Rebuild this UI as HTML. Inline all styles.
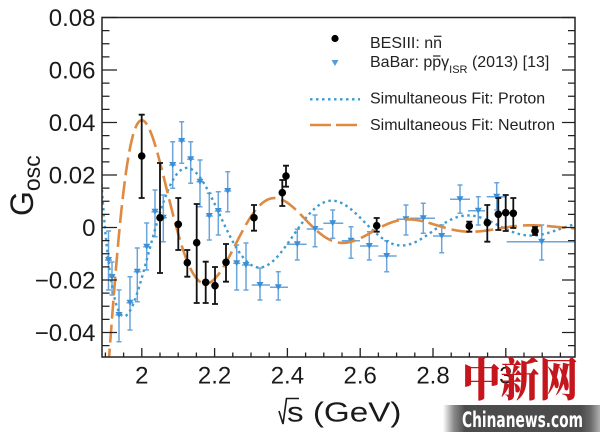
<!DOCTYPE html>
<html>
<head>
<meta charset="utf-8">
<style>
html,body{margin:0;padding:0;background:#fff;}
svg{display:block;}
text{font-family:"Liberation Sans",Arial,sans-serif;}
</style>
</head>
<body>
<svg id="s" width="600" height="432" viewBox="0 0 600 432" xmlns="http://www.w3.org/2000/svg">
<defs>
<clipPath id="clip"><rect x="102" y="17.5" width="473" height="339.5"/></clipPath>
<linearGradient id="bar" x1="0" x2="1" y1="0" y2="0">
<stop offset="0" stop-color="#ffffff"/>
<stop offset="0.07" stop-color="#8a8a8a"/>
<stop offset="0.14" stop-color="#4c4c4c"/>
<stop offset="0.88" stop-color="#4c4c4c"/>
<stop offset="0.94" stop-color="#6a6a6a"/>
<stop offset="1" stop-color="#b0b0b0"/>
</linearGradient>
</defs>
<rect width="600" height="432" fill="#fff"/>

<!-- BaBar data -->
<g clip-path="url(#clip)">
<path fill="none" stroke="#6aa6dc" stroke-width="1.5" d="M108.5 231V290M106 231h5M106 290h5M105 260H112M112 262V295M109.5 262h5M109.5 295h5M108.5 277H115.5M119 290V341.7M116.5 290h5M116.5 341.7h5M115.5 315H122.5M130 276.7V330M127.5 276.7h5M127.5 330h5M126.5 302.7H133.5M137.3 248V301.7M134.8 248h5M134.8 301.7h5M133.8 271.7H140.8M146.7 223V270M144.2 223h5M144.2 270h5M143.2 246.7H150.2M155 190V236.7M152.5 190h5M152.5 236.7h5M151.5 211.7H158.5M163.3 195V241.7M160.8 195h5M160.8 241.7h5M159.8 217.7H166.8M172.7 141.7V188.3M170.2 141.7h5M170.2 188.3h5M169.2 165H176.2M181.7 121.7V163.3M179.2 121.7h5M179.2 163.3h5M178.2 141H185.2M190.7 141.7V183.3M188.2 141.7h5M188.2 183.3h5M187.2 159.3H194.2M200 160V206.7M197.5 160h5M197.5 206.7h5M196.5 181.7H203.5M209.3 193.3V240M206.8 193.3h5M206.8 240h5M205.8 216H212.8M218.3 191.7V235M215.8 191.7h5M215.8 235h5M214.8 211H221.8M227.7 171.7V211.7M225.2 171.7h5M225.2 211.7h5M224.2 191H231.2M236.7 245V290M234.2 245h5M234.2 290h5M233.2 263.3H240.2M246 243V290M243.5 243h5M243.5 290h5M242 265H250M260 268V300M257.5 268h5M257.5 300h5M251.7 285H270M278.3 271.7V300M275.8 271.7h5M275.8 300h5M270 287.3H288M297.3 229.3V260M294.8 229.3h5M294.8 260h5M286.7 244.3H306.7M315 215V246.7M312.5 215h5M312.5 246.7h5M306.7 229H323.3M332.7 210V238.3M330.2 210h5M330.2 238.3h5M323.3 223.3H343.3M351 226.7V258.3M348.5 226.7h5M348.5 258.3h5M341.7 240.7H360M369.3 231.7V260M366.8 231.7h5M366.8 260h5M360 246H378.3M386.7 240.7V271.7M384.2 240.7h5M384.2 271.7h5M378.3 256H396.7M406 205V235M403.5 205h5M403.5 235h5M396.7 219.3H416.7M423.3 203.3V233.3M420.8 203.3h5M420.8 233.3h5M410 218.3H435M441.7 225V252.7M439.2 225h5M439.2 252.7h5M433 236H451.7M460 185V213.3M457.5 185h5M457.5 213.3h5M450 199.3H470M478.3 196.7V225M475.8 196.7h5M475.8 225h5M468 210.7H485M496.7 182.7V210M494.2 182.7h5M494.2 210h5M486.7 196.7H506.7M541.7 225V260M539.2 225h5M539.2 260h5M506.7 241.7H575"/>
<path fill="#3b8fd6" d="M105 257h7l-3.5 6zM108.5 274h7l-3.5 6zM115.5 312h7l-3.5 6zM126.5 299.7h7l-3.5 6zM133.8 268.7h7l-3.5 6zM143.2 243.7h7l-3.5 6zM151.5 208.7h7l-3.5 6zM159.8 214.7h7l-3.5 6zM169.2 162h7l-3.5 6zM178.2 138h7l-3.5 6zM187.2 156.3h7l-3.5 6zM196.5 178.7h7l-3.5 6zM205.8 213h7l-3.5 6zM214.8 208h7l-3.5 6zM224.2 188h7l-3.5 6zM233.2 260.3h7l-3.5 6zM242.5 262h7l-3.5 6zM256.5 282h7l-3.5 6zM274.8 284.3h7l-3.5 6zM293.8 241.3h7l-3.5 6zM311.5 226h7l-3.5 6zM329.2 220.3h7l-3.5 6zM347.5 237.7h7l-3.5 6zM365.8 243h7l-3.5 6zM383.2 253h7l-3.5 6zM402.5 216.3h7l-3.5 6zM419.8 215.3h7l-3.5 6zM438.2 233h7l-3.5 6zM456.5 196.3h7l-3.5 6zM474.8 207.7h7l-3.5 6zM493.2 193.7h7l-3.5 6zM538.2 238.7h7l-3.5 6z"/>

<!-- fit curves -->
<path id="proton" fill="none" stroke="#3d9bd0" stroke-width="2.4" stroke-dasharray="2.5 3.5" d=""/>
<path id="neutron" fill="none" stroke="#de8a40" stroke-width="2.6" stroke-dasharray="18 6" d=""/>

<!-- BESIII data -->
<path fill="none" stroke="#111" stroke-width="1.8" d="M141.7 114.7V198M138.7 114.7h6M138.7 198h6M160 163V273M157 163h6M157 273h6M178.3 198V250M175.3 198h6M175.3 250h6M187.3 250V276.7M184.3 250h6M184.3 276.7h6M196.7 204V303M193.7 204h6M193.7 303h6M205.7 261.7V303M202.7 261.7h6M202.7 303h6M215 267V304M212 267h6M212 304h6M226 244V281.7M223 244h6M223 281.7h6M254 205V230.7M251 205h6M251 230.7h6M282.3 180V206M279.3 180h6M279.3 206h6M286 165.7V186.7M283 165.7h6M283 186.7h6M376.7 218V231.7M373.7 218h6M373.7 231.7h6M469.3 221.7V231.7M466.3 221.7h6M466.3 231.7h6M487.3 205V241.7M484.3 205h6M484.3 241.7h6M498.3 198V230M495.3 198h6M495.3 230h6M505.7 195V231M502.7 195h6M502.7 231h6M513.3 198V228M510.3 198h6M510.3 228h6M535 227V235M532 227h6M532 235h6"/>
<g fill="#000">
<circle cx="141.7" cy="156" r="3.8"/><circle cx="160" cy="217.7" r="3.8"/><circle cx="178.3" cy="224.3" r="3.8"/><circle cx="187.3" cy="262.7" r="3.8"/><circle cx="196.7" cy="242.7" r="3.8"/><circle cx="205.7" cy="282.3" r="3.8"/><circle cx="215" cy="285.7" r="3.8"/><circle cx="226" cy="262.3" r="3.8"/><circle cx="254" cy="217.7" r="3.8"/><circle cx="282.3" cy="192.7" r="3.8"/><circle cx="286" cy="176" r="3.8"/><circle cx="376.7" cy="225.7" r="3.8"/><circle cx="469.3" cy="226" r="3.8"/><circle cx="487.3" cy="222.7" r="3.8"/><circle cx="498.3" cy="214.3" r="3.8"/><circle cx="505.7" cy="212.7" r="3.8"/><circle cx="513.3" cy="213.3" r="3.8"/><circle cx="535" cy="231" r="3.8"/>
</g>
</g>

<!-- frame & ticks -->
<rect x="102" y="17.5" width="473" height="339.5" fill="none" stroke="#222" stroke-width="1.5"/>
<path fill="none" stroke="#222" stroke-width="1.3" d="M102 17.5h15M102 30.6h7.5M102 43.75h7.5M102 56.9h7.5M102 70h15M102 83.1h7.5M102 96.25h7.5M102 109.4h7.5M102 122.5h15M102 135.6h7.5M102 148.75h7.5M102 161.9h7.5M102 175h15M102 188.1h7.5M102 201.25h7.5M102 214.4h7.5M102 227.5h15M102 240.6h7.5M102 253.75h7.5M102 266.9h7.5M102 280h15M102 293.1h7.5M102 306.25h7.5M102 319.4h7.5M102 332.5h15M102 345.6h7.5
M575 17.5h-13M575 30.6h-7M575 43.75h-7M575 56.9h-7M575 70h-13M575 83.1h-7M575 96.25h-7M575 109.4h-7M575 122.5h-13M575 135.6h-7M575 148.75h-7M575 161.9h-7M575 175h-13M575 188.1h-7M575 201.25h-7M575 214.4h-7M575 227.5h-13M575 240.6h-7M575 253.75h-7M575 266.9h-7M575 280h-13M575 293.1h-7M575 306.25h-7M575 319.4h-7M575 332.5h-13M575 345.6h-7
M105.4 357v-4.5M123.6 357v-4.5M141.8 357v-9M160 357v-4.5M178.2 357v-4.5M196.4 357v-4.5M214.6 357v-9M232.8 357v-4.5M251 357v-4.5M269.2 357v-4.5M287.4 357v-9M305.6 357v-4.5M323.8 357v-4.5M342 357v-4.5M360.2 357v-9M378.4 357v-4.5M396.6 357v-4.5M414.8 357v-4.5M433 357v-9M451.2 357v-4.5M469.4 357v-4.5M487.6 357v-4.5M505.8 357v-9M524 357v-4.5M542.2 357v-4.5M560.4 357v-4.5"/>

<!-- y tick labels -->
<g font-size="24" fill="#1a1a1a" text-anchor="end">
<text x="95.5" y="26.1">0.08</text>
<text x="95.5" y="78.6">0.06</text>
<text x="95.5" y="131.1">0.04</text>
<text x="95.5" y="183.6">0.02</text>
<text x="95.5" y="236.1">0</text>
<text x="95.5" y="288.6">−0.02</text>
<text x="95.5" y="341.1">−0.04</text>
</g>
<!-- x tick labels -->
<g font-size="24" fill="#1a1a1a" text-anchor="middle">
<text x="141.8" y="383.5">2</text>
<text x="214.6" y="383.5">2.2</text>
<text x="287.4" y="383.5">2.4</text>
<text x="360.2" y="383.5">2.6</text>
<text x="433" y="383.5">2.8</text>
<text x="505.8" y="383.5">3</text>
</g>

<!-- axis titles -->
<text transform="translate(33,216) rotate(-90)" font-size="32" fill="#1a1a1a">G<tspan font-size="23" dy="7">osc</tspan></text>
<path d="M279 411L283 424L286.5 398.5H299" fill="none" stroke="#1a1a1a" stroke-width="1.6"/>
<text x="287" y="421.5" font-size="28" fill="#1a1a1a" textLength="114.5" lengthAdjust="spacingAndGlyphs">s (GeV)</text>

<!-- legend -->
<circle cx="335" cy="38.5" r="3.6" fill="#000"/>
<text x="370" y="48" font-size="16" fill="#222">BESIII: nn</text>
<path d="M434 36.3h7.5" stroke="#222" stroke-width="1.2"/>
<path d="M331.5 60h7l-3.5 6z" fill="#5a9bd5"/>
<text x="370" y="67" font-size="16" fill="#222">BaBar: ppγ<tspan font-size="11" dy="6">ISR</tspan><tspan dy="-6"> (2013) [13]</tspan></text>
<path d="M433 56h7.5" stroke="#222" stroke-width="1.2"/>
<path d="M310 99.3H360" stroke="#3d9bd0" stroke-width="2.4" stroke-dasharray="2.5 3.5"/>
<text x="370" y="103.5" font-size="16" fill="#222">Simultaneous Fit: Proton</text>
<path d="M310 125H360" stroke="#de8a40" stroke-width="2.6" stroke-dasharray="21 5"/>
<text x="370" y="130" font-size="16" fill="#222">Simultaneous Fit: Neutron</text>

<!-- watermark -->
<text x="462" y="396" font-size="46" font-weight="900" fill="#c5161d" style="font-family:'Noto Serif CJK SC','Noto Sans CJK SC',serif" textLength="116" lengthAdjust="spacingAndGlyphs">中新网</text>
<rect x="443" y="405" width="157" height="27" fill="url(#bar)"/>
<text x="462" y="427" font-size="21" font-weight="bold" fill="#fff" style="font-family:'Liberation Sans Narrow','DejaVu Sans Condensed','Liberation Sans',sans-serif" textLength="121" lengthAdjust="spacingAndGlyphs">Chinanews.com</text>
</svg>
<script>
(function(){
function curve(m,A,B,C,D){
  var d='';
  for(var x=100;x<=577;x+=0.5){
    var E=2+(x-141.8)/364, u=E*E, t=u-4*m*m;
    if(t<=0) continue;
    var p=Math.sqrt(u*t)/(2*m);
    var G=A*Math.exp(-B*p)*Math.cos(C*p+D);
    var y=227.5-G*2625;
    if(y>460)y=460; if(y<-60)y=-60;
    d+=(d?'L':'M')+x.toFixed(1)+' '+y.toFixed(2);
  }
  return d;
}
document.getElementById('proton').setAttribute('d',curve(0.93827,0.0503,0.7,5.512,-0.0447));
document.getElementById('neutron').setAttribute('d',curve(0.93957,0.1,1.2,5.829,-4.45));
})();
</script>
</body>
</html>
